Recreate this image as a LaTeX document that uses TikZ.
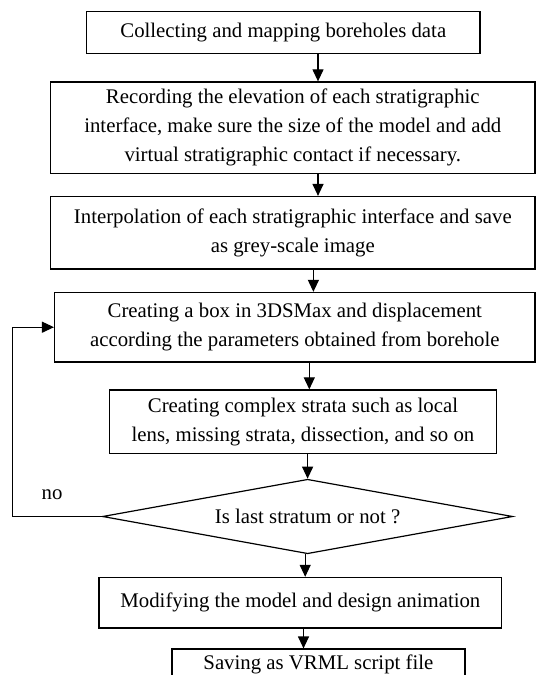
\documentclass[tikz,border=0pt]{standalone}
\usepackage{fontspec}
\setmainfont{Liberation Serif}
\usetikzlibrary{arrows.meta,shapes.geometric}
\begin{document}
\begin{tikzpicture}[x=0.5pt,y=-0.5pt,
  stepbox/.style={draw,line width=0.6pt,align=center,inner sep=0pt,font=\fontsize{10.4}{14.4}\selectfont},
  decision/.style={stepbox,diamond,aspect=5.5},
  flow/.style={line width=0.6pt,-{Triangle[length=6pt,width=5.5pt]}}]
\useasboundingbox (0,0) rectangle (536,675);

\node (collect) at (283.3,32.5) [stepbox,minimum width=196.75pt,minimum height=21.2pt] {Collecting and mapping boreholes data};

\node (record) at (292.8,127.6) [stepbox,minimum width=242.2pt,minimum height=45.65pt] {Recording the elevation of each stratigraphic\\interface, make sure the size of the model and add\\virtual stratigraphic contact if necessary.};

\node (interp) at (292.8,232.7) [stepbox,minimum width=242.2pt,minimum height=36.2pt] {Interpolation of each stratigraphic interface and save\\as grey-scale image};

\node (displace) at (294.8,327.2) [stepbox,minimum width=240.25pt,minimum height=34.75pt] {Creating a box in 3DSMax and displacement\\according the parameters obtained from borehole};

\node (complex) at (303,421.8) [stepbox,minimum width=193.6pt,minimum height=31.85pt] {Creating complex strata such as local\\lens, missing strata, dissection, and so on};

\node (check) at (307.6,516.5) [decision,minimum width=205.1pt,minimum height=37.25pt] {Is last stratum or not ?};

\node (modify) at (300.4,602.7) [stepbox,minimum width=201.35pt,minimum height=25.3pt] {Modifying the model and design animation};

\node (save) at (318.4,664) [stepbox,minimum width=146.5pt,minimum height=15pt] {Saving as VRML script file};

\node (no) at (52,495) [font=\fontsize{10.4}{14.4}\selectfont] {no};

% columns of the arrows
\coordinate (x1) at (318,0);
\coordinate (x3) at (313.4,0);
\coordinate (x4) at (309.3,0);
\coordinate (x6) at (305.2,0);
\coordinate (x7) at (303.5,0);
\coordinate (loop) at (12.3,0);

\draw[flow] (collect.south -| x1) -- (record.north -| x1);
\draw[flow] (record.south -| x1) -- (interp.north -| x1);
\draw[flow] (interp.south -| x3) -- (displace.north -| x3);
\draw[flow] (displace.south -| x4) -- (complex.north -| x4);
\draw[flow] (complex.south -| check.north) -- (check.north);
\draw[flow] (check.south -| x6) -- (modify.north -| x6);
\draw[flow] (modify.south -| x7) -- (save.north -| x7);

\draw[flow] (check.west) -- (check.west -| loop) |- (displace.west);

\end{tikzpicture}
\end{document}
